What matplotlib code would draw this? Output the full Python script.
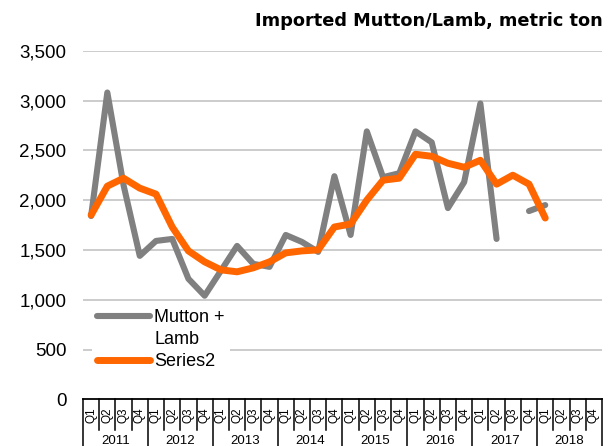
import numpy as np
import matplotlib.pyplot as plt
import matplotlib.transforms as mtransforms
from matplotlib.lines import Line2D

plt.rcParams['font.family'] = ['Liberation Sans', 'DejaVu Sans']

years = ['2011', '2012', '2013', '2014', '2015', '2016', '2017', '2018']
quarters = ['Q1', 'Q2', 'Q3', 'Q4']

# quarterly imports, metric ton (blank = no data)
mutton_lamb = [1840, 3080, 2150, 1440, 1590, 1610, 1210, 1040,
               1290, 1540, 1360, 1330, 1650, 1580, 1480, 2240,
               1650, 2690, 2230, 2270, 2690, 2580, 1920, 2180,
               2970, 1610, None, 1890, 1950, None, None, None]
series2 = [1850, 2140, 2220, 2120, 2060, 1730, 1490, 1380,
           1300, 1280, 1320, 1380, 1470, 1490, 1500, 1730,
           1760, 2000, 2200, 2220, 2460, 2440, 2370, 2330,
           2400, 2160, 2250, 2160, 1820, None, None, None]

n = len(years) * len(quarters)
x = np.arange(n)
y1 = np.array([np.nan if v is None else v for v in mutton_lamb], dtype=float)
y2 = np.array([np.nan if v is None else v for v in series2], dtype=float)

fig = plt.figure(figsize=(6.15, 4.46), dpi=100)
ax = fig.add_axes([83 / 615, 1 - 399.3 / 446, 519 / 615, 348.6 / 446])

l1, = ax.plot(x, y1, color='#808080', lw=4.4, solid_capstyle='round',
              solid_joinstyle='round', zorder=3)
l2, = ax.plot(x, y2, color='#FF6600', lw=5, solid_capstyle='round',
              solid_joinstyle='round', zorder=4)

ax.set_xlim(-0.5, n - 0.5)
ax.set_ylim(0, 3500)
ax.set_yticks(np.arange(0, 3501, 500))
ax.set_yticklabels([f'{v:,}' for v in range(0, 3501, 500)], fontsize=13.5)
ax.tick_params(axis='y', length=0, pad=12)
ax.set_xticks([])
for s in ax.spines.values():
    s.set_visible(False)
for v in range(500, 3501, 500):
    ax.axhline(v, color='#BFBFBF', lw=1.1, zorder=1)

# category table under the plot: quarters, then years
trans = mtransforms.blended_transform_factory(ax.transData, ax.transAxes)
ax.plot([-0.5, n - 0.5], [0, 0], color='black', lw=1.3, transform=trans,
        clip_on=False, zorder=5)
for i in range(n + 1):
    bottom = -0.2 if i % 4 == 0 else -0.088
    ax.plot([i - 0.5, i - 0.5], [0, bottom], color='black', lw=1.1,
            transform=trans, clip_on=False)
for i in range(n):
    ax.text(i, -0.045, quarters[i % 4], rotation=90, ha='center', va='center',
            fontsize=8.5, transform=trans, clip_on=False)
for j, yr in enumerate(years):
    ax.text(j * 4 + 1.5, -0.12, yr, ha='center', va='center',
            fontsize=9.5, transform=trans, clip_on=False)

# legend: the second line of the first label sits under its own row
blank = Line2D([], [], color='none')
leg = ax.legend([l1, blank, l2], ['Mutton +', 'Lamb', 'Series2'],
                loc='upper left', bbox_to_anchor=(0.0, 0.30), fontsize=13,
                handlelength=2.9, handletextpad=0.25, labelspacing=0.28,
                borderpad=0.3, frameon=True, fancybox=False)
leg.get_frame().set_facecolor('white')
leg.get_frame().set_edgecolor('none')
leg.get_frame().set_alpha(1)
leg.set_zorder(6)

fig.text(603 / 615, 1 - 21 / 446, 'Imported Mutton/Lamb, metric ton',
         ha='right', va='center', fontsize=12.8, fontweight='bold',
         family=['DejaVu Sans'])

fig.savefig('out.png', dpi=100)
